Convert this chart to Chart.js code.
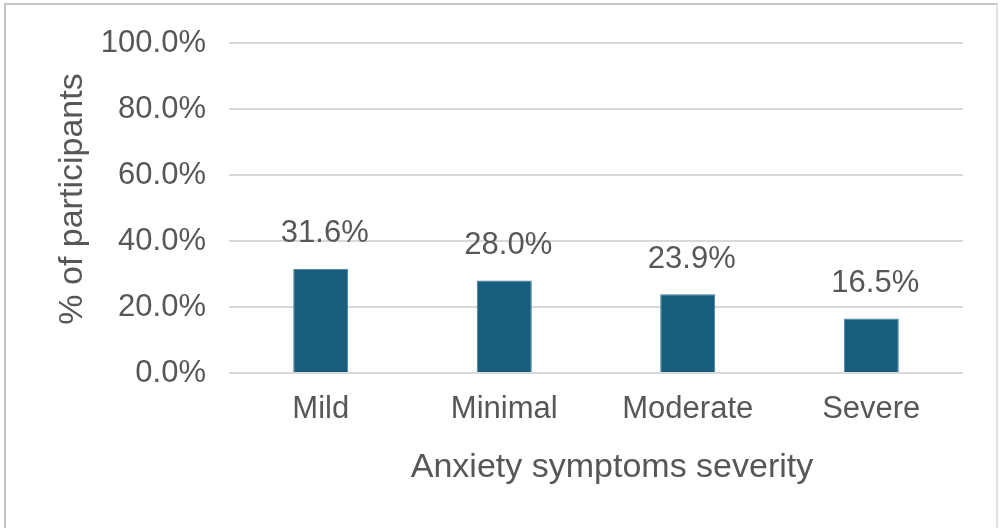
<!DOCTYPE html>
<html>
<head>
<meta charset="utf-8">
<script src="https://cdn.jsdelivr.net/npm/chart.js@4/dist/chart.umd.min.js"></script>
<style>
  html, body { margin: 0; padding: 0; background: #ffffff; }
  #wrap { position: relative; width: 1002px; height: 528px; overflow: hidden; }
  #frame {
    position: absolute; left: 4px; top: 3px; width: 994px; height: 540px;
    border-left: 2px solid #c4c4c4; border-top: 2px solid #c4c4c4; border-right: 2px solid #e2e2e2;
    box-sizing: border-box; pointer-events: none;
  }
  canvas { position: absolute; left: 0; top: 0; }
</style>
</head>
<body>
<div id="wrap">
  <canvas id="chart" width="1002" height="528"></canvas>
  <div id="frame"></div>
</div>
<script>
const categories = ['Mild', 'Minimal', 'Moderate', 'Severe'];
const shares = [31.6, 28.0, 23.9, 16.5];
const yTicks = [0, 20, 40, 60, 80, 100];
const xTitle = 'Anxiety symptoms severity';
const yTitle = '% of participants';

const FONT = '"Liberation Sans", Arial, Helvetica, sans-serif';
const TEXT = '#575757';

// Writes each bar's value above it, and the two axis titles
const annotations = {
  id: 'annotations',
  afterDraw(chart) {
    const ctx = chart.ctx;
    const area = chart.chartArea;
    const meta = chart.getDatasetMeta(0);
    ctx.save();
    ctx.fillStyle = TEXT;
    ctx.textAlign = 'center';
    ctx.textBaseline = 'middle';

    ctx.font = '31px ' + FONT;
    meta.data.forEach((bar, i) => {
      ctx.fillText(shares[i].toFixed(1) + '%', bar.x + 4, bar.y - 35);
    });

    ctx.font = '34px ' + FONT;
    ctx.fillText(xTitle, (area.left + area.right) / 2 + 16, area.bottom + 95);

    ctx.translate(area.left - 156, (area.top + area.bottom) / 2 - 9);
    ctx.rotate(-Math.PI / 2);
    ctx.fillText(yTitle, 0, 0);
    ctx.restore();
  }
};

new Chart(document.getElementById('chart'), {
  type: 'bar',
  data: {
    labels: categories,
    datasets: [{
      data: shares,
      backgroundColor: '#175d7e',
      borderColor: '#3f7d99',
      borderWidth: 1,
      categoryPercentage: 1.0,
      barPercentage: 0.3
    }]
  },
  options: {
    responsive: false,
    animation: false,
    devicePixelRatio: 1,
    layout: { padding: { left: 50, top: 43, right: 39, bottom: 38 } },
    plugins: { legend: { display: false }, tooltip: { enabled: false } },
    scales: {
      x: {
        grid: { display: false, drawTicks: false },
        border: { display: false },
        ticks: { color: TEXT, font: { family: FONT, size: 31 }, padding: 18 },
        afterFit(scale) { scale.height = 117; }
      },
      y: {
        min: 0, max: 100,
        afterBuildTicks(scale) { scale.ticks = yTicks.map(v => ({ value: v })); },
        grid: { color: '#d9d9d9', lineWidth: 2, drawTicks: false },
        border: { display: false },
        ticks: {
          color: TEXT, font: { family: FONT, size: 31 }, padding: 23,
          callback: v => v.toFixed(1) + '%'
        },
        afterFit(scale) { scale.width = 179; }
      }
    }
  },
  plugins: [annotations]
});
</script>
</body>
</html>
